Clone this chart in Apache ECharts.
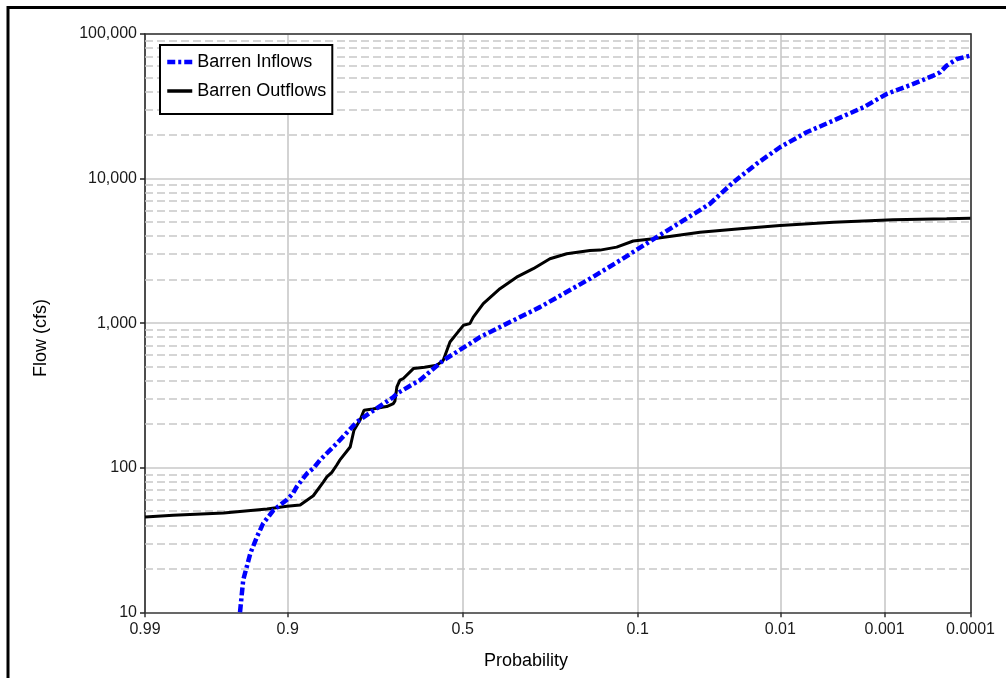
<!DOCTYPE html>
<html><head><meta charset="utf-8">
<script src="https://cdn.jsdelivr.net/npm/echarts@6/dist/echarts.min.js"></script>
<style>html,body{margin:0;padding:0;background:#fff}#c{width:1006px;height:678px}</style>
</head><body><div id="c"></div>
<script>
// ---- data (exceedance probability, flow in cfs) ----
const probTicks = [0.99, 0.9, 0.5, 0.1, 0.01, 0.001, 0.0001];
const probTickLabels = ['0.99', '0.9', '0.5', '0.1', '0.01', '0.001', '0.0001'];
const flowTicks = [10, 100, 1000, 10000, 100000];
const flowTickLabels = ['10', '100', '1,000', '10,000', '100,000'];

const inflowProb = [0.9485, 0.946, 0.940, 0.934, 0.928, 0.917, 0.901, 0.893, 0.888, 0.873, 0.863, 0.852,
  0.822, 0.816, 0.781, 0.751, 0.694, 0.685, 0.623, 0.5565, 0.479, 0.4495, 0.2857, 0.1757, 0.1247, 0.0777,
  0.0531, 0.0351, 0.0237, 0.0157, 0.01006, 0.00589, 0.00332, 0.00167, 0.000951, 0.000483, 0.000285,
  0.000236, 0.000197, 0.000148, 0.0001];
const inflowFlow = [10, 16.7, 25.6, 33.3, 41.2, 50.9, 60, 66.4, 73.8, 91.2, 99, 112.8,
  147, 155, 207, 240, 308, 326, 403, 553, 721, 802, 1291, 2028, 2717, 3935,
  5128, 6693, 9441, 12650, 16470, 20900, 25180, 31100, 38500, 45150, 51500,
  54300, 60400, 67100, 71000];

const outflowProb = [0.99, 0.983, 0.960, 0.924, 0.901, 0.883, 0.863, 0.846, 0.840, 0.831, 0.822, 0.816,
  0.795, 0.787, 0.774, 0.765, 0.745, 0.719, 0.711, 0.694, 0.690, 0.685, 0.677, 0.668, 0.641, 0.610,
  0.575, 0.5565, 0.537, 0.5175, 0.498, 0.479, 0.469, 0.440, 0.3924, 0.3464, 0.3026, 0.2614, 0.223,
  0.1757, 0.1572, 0.1297, 0.1058, 0.0814, 0.0411, 0.0211, 0.01006, 0.00332, 0.000808, 0.000197, 0.0001];
const outflowFlow = [45.7, 47, 48.7, 51.8, 54.2, 55.3, 64, 79.8, 86.5, 93, 104, 112.8,
  139, 181.6, 213, 250, 255, 263, 265, 278, 290, 362, 403, 414, 485, 495,
  511, 553, 740, 846, 966, 992, 1101, 1365, 1730, 2080, 2380, 2790, 3020,
  3185, 3200, 3357, 3700, 3837, 4256, 4497, 4745, 4993, 5190, 5270, 5310];

// ---- normal probability scale helpers ----
function normInv(p) {
  const a = [-3.969683028665376e+01, 2.209460984245205e+02, -2.759285104469687e+02, 1.383577518672690e+02, -3.066479806614716e+01, 2.506628277459239e+00];
  const b = [-5.447609879822406e+01, 1.615858368580409e+02, -1.556989798598866e+02, 6.680131188771972e+01, -1.328068155288572e+01];
  const c = [-7.784894002430293e-03, -3.223964580411365e-01, -2.400758277161838e+00, -2.549732539343734e+00, 4.374664141464968e+00, 2.938163982698783e+00];
  const d = [7.784695709041462e-03, 3.224671290700398e-01, 2.445134137142996e+00, 3.754408661907416e+00];
  const plow = 0.02425, phigh = 1 - plow;
  let q, r;
  if (p < plow) {
    q = Math.sqrt(-2 * Math.log(p));
    return (((((c[0]*q+c[1])*q+c[2])*q+c[3])*q+c[4])*q+c[5]) / ((((d[0]*q+d[1])*q+d[2])*q+d[3])*q+1);
  } else if (p <= phigh) {
    q = p - 0.5; r = q * q;
    return (((((a[0]*r+a[1])*r+a[2])*r+a[3])*r+a[4])*r+a[5])*q / (((((b[0]*r+b[1])*r+b[2])*r+b[3])*r+b[4])*r+1);
  } else {
    q = Math.sqrt(-2 * Math.log(1 - p));
    return -(((((c[0]*q+c[1])*q+c[2])*q+c[3])*q+c[4])*q+c[5]) / ((((d[0]*q+d[1])*q+d[2])*q+d[3])*q+1);
  }
}
function zOf(p) { return normInv(1 - p); }

const tickZ = probTicks.map(zOf);
const zMin = tickZ[0], zMax = tickZ[tickZ.length - 1];
const minorFlows = [];
for (let i = 0; i < flowTicks.length - 1; i++) for (let k = 2; k <= 9; k++) minorFlows.push(k * flowTicks[i]);

const FONT = '"Liberation Sans", Arial, sans-serif';
const chart = echarts.init(document.getElementById('c'), null, { renderer: 'canvas' });
chart.setOption({
  animation: false,
  backgroundColor: '#fff',
  grid: { left: 145, top: 34, right: 35.5, bottom: 65.7, show: false },
  legend: {
    left: 160, top: 45, orient: 'vertical', z: 10,
    data: [
      { name: 'Barren Inflows', lineStyle: { width: 4.5, color: '#0000ff', type: [8, 3, 3, 3] } },
      { name: 'Barren Outflows', lineStyle: { width: 3.5, color: '#000' } }
    ],
    backgroundColor: '#fff', borderColor: '#000', borderWidth: 2,
    padding: [8, 6, 14, 5], itemGap: 11, itemWidth: 25, itemHeight: 14,
    itemStyle: { color: 'rgba(0,0,0,0)', borderWidth: 0, opacity: 0 },
    textStyle: { fontFamily: FONT, fontSize: 18, color: '#000', lineHeight: 18 }
  },
  xAxis: [{
    type: 'value', min: zMin, max: zMax,
    axisLine: { show: true, onZero: false, lineStyle: { color: '#444', width: 1.5 } },
    axisTick: { show: true, length: 5, customValues: tickZ, lineStyle: { color: '#333', width: 1.5 } },
    axisLabel: {
      customValues: tickZ, margin: 9, fontFamily: FONT, fontSize: 16, color: '#1a1a1a',
      formatter: function (v) {
        for (let i = 0; i < tickZ.length; i++) if (Math.abs(tickZ[i] - v) < 1e-6) return probTickLabels[i];
        return '';
      }
    },
    splitLine: { show: true, lineStyle: { color: '#c4c4c4', width: 1.5 } }
  }, {
    type: 'value', position: 'top', min: zMin, max: zMax,
    axisLine: { show: true, onZero: false, lineStyle: { color: '#333', width: 1.5 } },
    axisTick: { show: false }, axisLabel: { show: false }, splitLine: { show: false }
  }],
  yAxis: [{
    type: 'log', logBase: 10, min: 10, max: 100000,
    axisLine: { show: true, onZero: false, lineStyle: { color: '#222', width: 1.5 } },
    axisTick: { show: true, length: 5, lineStyle: { color: '#222', width: 1.5 } },
    axisLabel: {
      margin: 8, fontFamily: FONT, fontSize: 16, color: '#1a1a1a',
      formatter: function (v) {
        const i = flowTicks.findIndex(t => Math.abs(t - v) / t < 1e-6);
        return i >= 0 ? flowTickLabels[i] : '';
      }
    },
    splitLine: { show: true, lineStyle: { color: '#c8c8c8', width: 1.5 } },
    minorTick: { show: false }, minorSplitLine: { show: false }
  }, {
    type: 'log', logBase: 10, min: 10, max: 100000, position: 'right',
    axisLine: { show: true, onZero: false, lineStyle: { color: '#555', width: 2 } },
    axisTick: { show: false }, axisLabel: { show: false }, splitLine: { show: false }
  }],
  series: [
    {
      type: 'line', name: 'minor grid', data: [[zMin, 10]], symbol: 'none', silent: true, z: 1,
      lineStyle: { opacity: 0 },
      markLine: {
        z: 1, silent: true, symbol: ['none', 'none'], label: { show: false }, animation: false,
        lineStyle: { type: [8, 4], color: '#c8c8c8', width: 1.5 },
        emphasis: { disabled: true },
        data: minorFlows.map(v => ({ yAxis: v }))
      }
    },
    {
      type: 'line', name: 'Barren Outflows', z: 3, symbol: 'none', showSymbol: false,
      data: outflowProb.map((p, i) => [zOf(p), outflowFlow[i]]),
      lineStyle: { color: '#000', width: 3 }, itemStyle: { color: '#000' }
    },
    {
      type: 'line', name: 'Barren Inflows', z: 4, symbol: 'none', showSymbol: false,
      data: inflowProb.map((p, i) => [zOf(p), inflowFlow[i]]),
      lineStyle: { color: '#0000ff', width: 4.5, type: [8, 3, 3, 3] }, itemStyle: { color: '#0000ff' }
    }
  ],
  graphic: [
    { type: 'rect', silent: true, shape: { x: 8, y: 7.5, width: 1100, height: 800 },
      style: { fill: 'none', stroke: '#000', lineWidth: 3 } },
    { type: 'text', silent: true, x: 526, y: 661,
      style: { text: 'Probability', fontFamily: FONT, fontSize: 18, fill: '#000', align: 'center', verticalAlign: 'middle' } },
    { type: 'text', silent: true, x: 41.5, y: 338, rotation: Math.PI / 2,
      style: { text: 'Flow (cfs)', fontFamily: FONT, fontSize: 18, fill: '#000', align: 'center', verticalAlign: 'middle' } }
  ]
});
</script></body></html>
